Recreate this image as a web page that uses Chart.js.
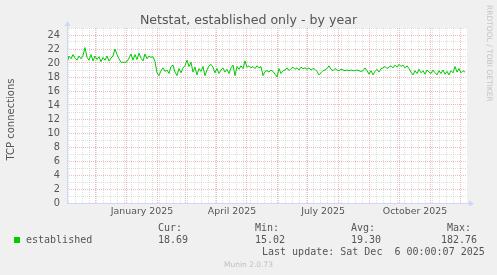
<!DOCTYPE html>
<html><head><meta charset="utf-8">
<script src="https://cdn.jsdelivr.net/npm/chart.js@4/dist/chart.umd.min.js"></script>
<style>html,body{margin:0;padding:0;background:#f0f0f0;overflow:hidden}canvas{display:block}</style>
</head><body>
<canvas id="c" width="497" height="275"></canvas>
<script>
// ---- data ----
const chartTitle = 'Netstat, established only - by year';
const yAxisLabel = 'TCP connections';
const seriesName = 'established';
const startDate = '2024-11-01';      // day 0 of the x scale
const stepDays = 2;                  // one reading every 2 days
const firstReadingDay = 1.5;
const values = [
  20.0, 21.0, 20.6, 21.2, 20.7, 20.4, 21.0, 20.6, 21.1, 22.2,
  20.8, 20.4, 21.2, 20.3, 21.0, 20.5, 20.9, 20.2, 20.8, 20.4, 21.0, 20.3, 20.7, 21.0,
  22.0, 21.2, 20.6, 20.1, 20.1, 20.1, 20.2, 20.7, 21.3, 20.4,
  21.2, 20.5, 21.4, 20.7, 20.3, 21.3, 20.6, 21.0, 20.8, 20.9, 20.2,
  18.6, 18.2, 18.9, 19.3, 18.8,
  19.0, 18.5, 19.5, 19.7, 18.7, 18.2, 19.2, 18.6, 19.3,
  19.6, 20.4, 19.5, 20.1,
  18.7, 19.4, 18.3, 19.2, 18.8, 19.5, 18.2, 19.0,
  19.6, 19.8, 19.4,
  18.6, 19.2, 18.5, 19.0, 19.3, 18.7, 19.1, 18.5,
  19.3, 19.7, 18.2, 19.5, 19.1, 19.6, 19.2, 20.3,
  19.4, 19.6, 19.3, 19.5, 19.2, 19.6, 19.3, 19.5, 18.2, 18.8,
  18.9, 18.7, 19.0, 18.8, 18.4, 18.0, 19.2,
  18.5, 18.9, 19.0, 19.3, 18.9, 19.2, 19.4, 19.1,
  19.3, 19.0, 19.4, 19.2, 19.3, 19.1, 19.3, 19.0, 19.2, 19.1,
  18.8, 18.3, 18.6, 18.9, 19.0, 19.2, 19.6,
  19.1, 18.9, 19.2, 19.0, 18.9, 19.1, 19.0, 18.9,
  19.0, 18.9, 19.0, 18.9, 18.9, 19.0, 18.9, 18.8, 18.9, 19.3, 18.9,
  18.4, 18.9, 18.3, 18.8, 19.1, 18.7, 19.2,
  19.3, 19.5, 19.2, 19.4,
  19.6, 19.3, 19.7, 19.4, 19.8, 19.5, 19.7, 19.3, 19.6, 19.2,
  18.7, 18.3,
  18.9, 18.5, 19.1, 18.6, 18.9, 18.4, 19.0, 18.7, 18.5, 19.0,
  18.6, 18.3, 18.9, 18.5, 19.0, 18.4, 18.8, 18.3, 18.9, 18.6,
  19.5, 18.7, 19.2, 18.6, 18.9, 18.69
];
const monthStarts = ['2024-12-01','2025-01-01','2025-02-01','2025-03-01','2025-04-01','2025-05-01',
  '2025-06-01','2025-07-01','2025-08-01','2025-09-01','2025-10-01','2025-11-01','2025-12-01'];
const firstMonday = '2024-11-04';
const tickLabels = ['January 2025','April 2025','July 2025','October 2025'];
const tickLabelDates = ['2025-01-16','2025-04-16','2025-07-16','2025-10-16'];
const yTicks = [0,1,2,3,4,5,6,7,8,9,10,11,12,13,14,15,16,17,18,19,20,21,22,23,24,25];
const statHeads = ['Cur:','Min:','Avg:','Max:'];
const statValues = ['18.69','15.02','19.30','182.76'];
const lastUpdate = 'Last update: Sat Dec  6 00:00:07 2025';
const watermark = 'RRDTOOL / TOBI OETIKER';
const footer = 'Munin 2.0.73';

// ---- helpers ----
const DAY = 86400000;
const dayOf = s => (Date.parse(s + 'T00:00:00Z') - Date.parse(startDate + 'T00:00:00Z')) / DAY;
const xMin = 1.5, xMax = 401.5;
const points = values.map((v, i) => ({x: firstReadingDay + i * stepDays, y: v}));

const monthDays = monthStarts.map(dayOf);
const weekDays = [];
for (let d = dayOf(firstMonday); d < xMax; d += 7) {
  if (!monthDays.some(m => Math.abs(m - d) < 0.01)) weekDays.push(d);
}
const labelDays = tickLabelDates.map(s => dayOf(s) + 0.5);

const MGRID = 'rgba(220,120,120,0.5)';
const GRID = 'rgba(160,160,160,0.32)';
const AXIS = '#cfd6f8';
const FONTC = '#555555';

const xTickObjs = [
  ...weekDays.map(v => ({value: v, kind: 'week'})),
  ...monthDays.map(v => ({value: v, kind: 'month'})),
  ...labelDays.map((v, i) => ({value: v, kind: 'label', text: tickLabels[i]}))
].sort((a, b) => a.value - b.value);

const decor = {
  id: 'decor',
  beforeDraw(chart) {
    const {ctx, chartArea: a} = chart;
    ctx.save();
    ctx.fillStyle = '#f0f0f0';
    ctx.fillRect(0, 0, chart.width, chart.height);
    ctx.fillStyle = '#ffffff';
    ctx.fillRect(a.left, a.top, a.right - a.left, a.bottom - a.top);
    ctx.restore();
  },
  afterDraw(chart) {
    const {ctx, chartArea: a} = chart;
    const W = chart.width;
    ctx.save();
    // axes with arrows
    ctx.strokeStyle = AXIS; ctx.fillStyle = AXIS; ctx.lineWidth = 1;
    ctx.beginPath();
    ctx.moveTo(a.left + 0.5, a.bottom + 0.5); ctx.lineTo(a.left + 0.5, a.top - 4);
    ctx.moveTo(a.left, a.bottom + 0.5); ctx.lineTo(a.right + 3, a.bottom + 0.5);
    ctx.stroke();
    ctx.beginPath();
    ctx.moveTo(a.left + 0.5, a.top - 7); ctx.lineTo(a.left - 2.5, a.top - 2); ctx.lineTo(a.left + 3.5, a.top - 2); ctx.closePath(); ctx.fill();
    ctx.beginPath();
    ctx.moveTo(a.right + 7, a.bottom + 0.5); ctx.lineTo(a.right + 2, a.bottom - 2.5); ctx.lineTo(a.right + 2, a.bottom + 3.5); ctx.closePath(); ctx.fill();

    // title
    ctx.fillStyle = FONTC;
    ctx.font = '12.6px "DejaVu Sans"';
    ctx.textAlign = 'center'; ctx.textBaseline = 'alphabetic';
    ctx.fillText(chartTitle, W / 2, 24);

    // y axis label
    ctx.save();
    ctx.translate(11, (a.top + a.bottom) / 2 + 4);
    ctx.rotate(-Math.PI / 2);
    ctx.font = '10px "DejaVu Sans"';
    ctx.textAlign = 'center';
    ctx.textBaseline = 'middle';
    ctx.fillText(yAxisLabel, 0, 0);
    ctx.restore();

    // watermark
    ctx.save();
    ctx.translate(488.5, 5);
    ctx.rotate(Math.PI / 2);
    ctx.font = '7.5px "DejaVu Sans"';
    ctx.fillStyle = '#c4c4c4';
    ctx.textAlign = 'left'; ctx.textBaseline = 'middle';
    ctx.fillText(watermark, 0, 0);
    ctx.restore();

    // legend
    ctx.fillStyle = '#00cc00';
    ctx.fillRect(14, 237, 6, 6);
    ctx.fillStyle = FONTC;
    ctx.font = '10px "DejaVu Sans Mono"';
    ctx.textAlign = 'left';
    ctx.fillText(seriesName, 26, 243);
    const headX = [158, 255, 351, 447];
    const valX = [158, 255, 351, 441];
    statHeads.forEach((h, i) => ctx.fillText(h, headX[i], 231));
    statValues.forEach((v, i) => ctx.fillText(v, valX[i], 243));
    ctx.fillText(lastUpdate, 262, 255);

    ctx.font = '7.5px "DejaVu Sans"';
    ctx.fillStyle = '#c0c0c0';
    ctx.textAlign = 'center';
    ctx.fillText(footer, W / 2, 267);
    ctx.restore();
  }
};

new Chart(document.getElementById('c'), {
  type: 'line',
  data: {
    datasets: [{
      label: seriesName,
      data: points,
      borderColor: '#00cc00',
      borderWidth: 1,
      pointRadius: 0,
      tension: 0,
      fill: false
    }]
  },
  options: {
    responsive: false,
    devicePixelRatio: 1,
    animation: false,
    parsing: false,
    normalized: true,
    layout: {padding: {left: 0, top: 28, right: 30, bottom: 0}},
    plugins: {legend: {display: false}, title: {display: false}, tooltip: {enabled: false}},
    scales: {
      x: {
        type: 'linear', min: xMin, max: xMax,
        afterBuildTicks: s => { s.ticks = xTickObjs.map(t => Object.assign({}, t)); },
        afterFit: s => { s.height = 72; },
        grid: {
          color: c => c.tick ? (c.tick.kind === 'month' ? MGRID : c.tick.kind === 'week' ? GRID : 'rgba(0,0,0,0)') : GRID,
          lineWidth: 1, drawTicks: false
        },
        border: {display: false, dash: [1, 1]},
        ticks: {
          autoSkip: false, maxRotation: 0, minRotation: 0, padding: 3,
          color: FONTC, font: {family: 'DejaVu Sans', size: 9.4},
          callback: (v, i, ticks) => ticks[i] && ticks[i].kind === 'label' ? ticks[i].text : ''
        }
      },
      y: {
        type: 'linear', min: 0, max: 25,
        afterBuildTicks: s => { s.ticks = yTicks.map(v => ({value: v})); },
        afterFit: s => { s.width = 67; },
        grid: {
          color: c => c.tick && c.tick.value % 2 === 0 ? MGRID : GRID,
          lineWidth: 1, drawTicks: false
        },
        border: {display: false, dash: [1, 1]},
        ticks: {
          autoSkip: false,
          padding: 7, color: FONTC, font: {family: 'DejaVu Sans', size: 9.8},
          callback: v => (v % 2 === 0 && v < 25) ? String(v) : ''
        }
      }
    }
  },
  plugins: [decor]
});
</script>
</body></html>
